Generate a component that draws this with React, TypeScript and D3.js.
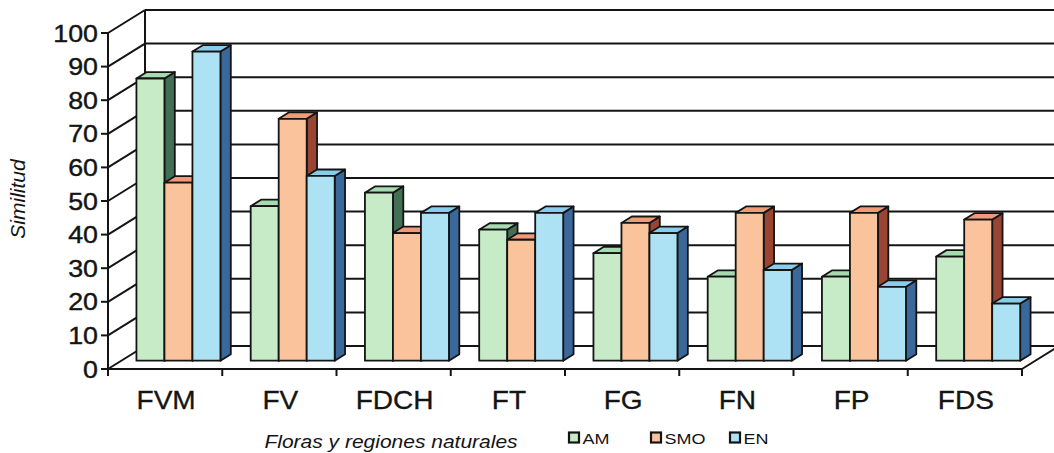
import React from "react";
import * as d3 from "d3";

// Similarity of each flora with the three natural regions
const categories = ["FVM", "FV", "FDCH", "FT", "FG", "FN", "FP", "FDS"];
const seriesNames = ["AM", "SMO", "EN"];
const amValues = [84, 46, 50, 39, 32, 25, 25, 31];
const smoValues = [53, 72, 38, 36, 41, 44, 44, 42];
const enValues = [92, 55, 44, 44, 38, 27, 22, 17];
const yTicks = [0, 10, 20, 30, 40, 50, 60, 70, 80, 90, 100];
const yTitle = "Similitud";
const xTitle = "Floras y regiones naturales";

const seriesValues = [amValues, smoValues, enValues];

// face colours per series: front, top, side
const palette = [
  { front: "#c6ebc6", top: "#a6dbb2", side: "#436f55" },
  { front: "#fbc39c", top: "#f19a7a", side: "#9a4533" },
  { front: "#ace2f3", top: "#88cdec", side: "#3a689a" },
];

const W = 1054;
const H = 453;
// oblique depth offset of the chart box
const DX = 37;
const DY = 23;
// depth slab occupied by the columns
const Z0 = 0.36;
const Z1 = 0.64;
const INK = "#141414";
const FONT = "'Liberation Sans', Arial, sans-serif";

export default function App() {
  const x = d3
    .scaleBand<string>()
    .domain(categories)
    .range([108, 1022])
    .paddingInner(0)
    .paddingOuter(0);
  const xs = d3
    .scaleBand<string>()
    .domain(seriesNames)
    .range([0, x.bandwidth()])
    .paddingOuter(0.54)
    .paddingInner(0);
  const y = d3.scaleLinear().domain([0, 100]).range([369, 33]);

  const P = (px: number, v: number, z: number): [number, number] => [
    px + z * DX,
    y(v) - z * DY,
  ];
  const poly = (pts: [number, number][]) =>
    pts.map((p) => `${p[0].toFixed(2)},${p[1].toFixed(2)}`).join(" ");

  const xL = x.range()[0];
  const xR = x.range()[1];
  const y0 = y(0);
  const bounds = [...categories.map((c) => x(c) as number), xR];

  const bars: React.ReactNode[] = [];
  categories.forEach((cat, ci) => {
    seriesNames.forEach((s, si) => {
      const v = seriesValues[si][ci];
      const x0 = (x(cat) as number) + (xs(s) as number);
      const x1 = x0 + xs.bandwidth();
      const c = palette[si];
      bars.push(
        <g key={`${cat}-${s}`} stroke={INK} strokeWidth={1.8} strokeLinejoin="round">
          <polygon
            points={poly([P(x1, 0, Z0), P(x1, v, Z0), P(x1, v, Z1), P(x1, 0, Z1)])}
            fill={c.side}
          />
          <polygon
            points={poly([P(x0, v, Z0), P(x1, v, Z0), P(x1, v, Z1), P(x0, v, Z1)])}
            fill={c.top}
          />
          <polygon
            points={poly([P(x0, 0, Z0), P(x1, 0, Z0), P(x1, v, Z0), P(x0, v, Z0)])}
            fill={c.front}
          />
        </g>
      );
    });
  });

  const legendItems = [
    { name: seriesNames[0], x: 569, color: palette[0].front },
    { name: seriesNames[1], x: 651, color: palette[1].front },
    { name: seriesNames[2], x: 730, color: palette[2].front },
  ];

  return (
    <svg
      width={W}
      height={H}
      viewBox={`0 0 ${W} ${H}`}
      style={{ position: "absolute", left: 0, top: 0, background: "#fff" }}
    >
      <rect x={0} y={0} width={W} height={H} fill="#fff" />

      {/* back wall gridlines */}
      <g stroke={INK} strokeWidth={2}>
        {yTicks.map((t) => (
          <line key={`g${t}`} x1={xL + DX} x2={xR + DX} y1={y(t) - DY} y2={y(t) - DY} />
        ))}
        <line x1={xL + DX} x2={xL + DX} y1={y(100) - DY} y2={y0 - DY} />
        {/* side wall spokes */}
        {yTicks.map((t) => (
          <line key={`s${t}`} x1={xL} x2={xL + DX} y1={y(t)} y2={y(t) - DY} />
        ))}
        {/* floor */}
        <line x1={xL} x2={xR} y1={y0} y2={y0} />
        <line x1={xR} x2={xR + DX} y1={y0} y2={y0 - DY} />
        {/* value axis */}
        <line x1={xL} x2={xL} y1={y(100)} y2={y0 + 7} />
        {yTicks.map((t) => (
          <line key={`t${t}`} x1={xL - 7} x2={xL} y1={y(t)} y2={y(t)} />
        ))}
        {bounds.map((b, i) => (
          <line key={`c${i}`} x1={b} x2={b} y1={y0} y2={y0 + 7} />
        ))}
      </g>

      {bars}

      {/* tick labels */}
      <g fontFamily={FONT} fill={INK} stroke={INK} strokeWidth={0.4} fontSize={23.5}>
        {yTicks.map((t) => (
          <text
            key={`l${t}`}
            transform={`translate(${xL - 10},${y(t) + 8.5}) scale(1.14,1)`}
            textAnchor="end"
          >
            {t}
          </text>
        ))}
      </g>
      <g fontFamily={FONT} fill={INK} stroke={INK} strokeWidth={0.3} fontSize={26.5}>
        {categories.map((c) => (
          <text
            key={`cl${c}`}
            transform={`translate(${(x(c) as number) + x.bandwidth() / 2 + 1},${409}) scale(1.06,1)`}
            textAnchor="middle"
          >
            {c}
          </text>
        ))}
      </g>

      {/* axis titles */}
      <text
        transform={`translate(25,199) rotate(-90)`}
        textAnchor="middle"
        fontFamily={FONT}
        fontStyle="italic"
        fontSize={21}
        fill={INK}
      >
        {yTitle}
      </text>
      <text
        transform={`translate(391,448) scale(1.2,1)`}
        textAnchor="middle"
        fontFamily={FONT}
        fontStyle="italic"
        fontSize={17.5}
        fill={INK}
      >
        {xTitle}
      </text>

      {/* legend */}
      <g fontFamily={FONT} fontSize={15} fill={INK}>
        {legendItems.map((it) => (
          <g key={it.name}>
            <rect
              x={it.x}
              y={432.5}
              width={10}
              height={10}
              fill={it.color}
              stroke={INK}
              strokeWidth={2.2}
            />
            <text transform={`translate(${it.x + 13.5},${443.5}) scale(1.2,1)`}>{it.name}</text>
          </g>
        ))}
      </g>
    </svg>
  );
}
